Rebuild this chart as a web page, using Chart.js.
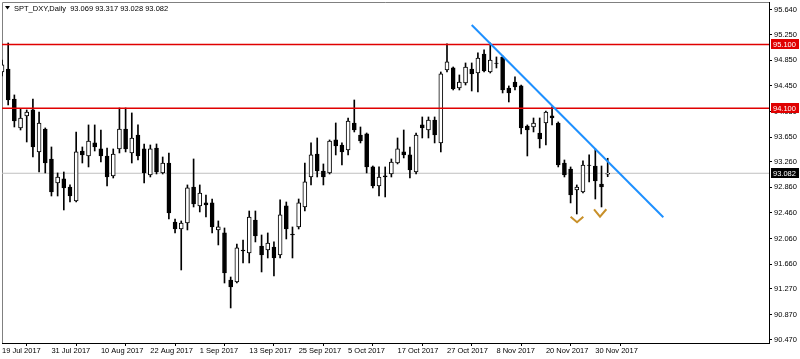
<!DOCTYPE html>
<html><head><meta charset="utf-8">
<script src="https://cdn.jsdelivr.net/npm/chart.js@4/dist/chart.umd.min.js"></script>
<style>html,body{margin:0;padding:0;background:#fff}#wrap{width:800px;height:359px;position:relative}</style>
</head><body><div id="wrap"><canvas id="c" width="800" height="359"></canvas></div>
<script>
const symbolTitle = 'SPT_DXY,Daily';
const lastQuote = '93.069 93.317 93.028 93.082';
const xTickIndex = [0, 8, 16, 24, 32, 40, 48, 56, 64, 72, 80, 88, 96];
const xTickLabels = ['19 Jul 2017','31 Jul 2017','10 Aug 2017','22 Aug 2017','1 Sep 2017','13 Sep 2017','25 Sep 2017','5 Oct 2017','17 Oct 2017','27 Oct 2017','8 Nov 2017','20 Nov 2017','30 Nov 2017'];
const yTicks = [95.640, 95.250, 94.850, 94.450, 94.050, 93.650, 93.260, 92.860, 92.460, 92.060, 91.660, 91.270, 90.870, 90.470];

const open = [94.669,94.716,94.246,93.792,93.980,94.074,93.416,93.776,93.306,92.930,
92.993,92.867,92.648,93.431,93.353,93.557,93.463,93.353,93.040,93.463,
93.776,93.400,93.682,93.463,93.055,93.478,93.087,93.243,92.319,92.209,
92.303,92.867,92.570,92.617,92.617,92.194,92.147,91.410,91.379,91.880,
91.833,92.350,91.943,91.880,91.927,91.802,92.570,92.131,92.241,92.554,
93.024,93.384,93.118,93.087,93.604,93.525,93.447,93.870,93.682,93.698,
93.181,92.883,93.040,93.071,93.243,93.416,93.369,93.102,93.839,93.760,
93.917,93.557,94.700,94.732,94.418,94.497,94.716,94.653,94.951,94.669,
94.810,94.904,94.418,94.512,94.450,93.823,93.807,93.713,93.870,93.980,
93.870,93.243,93.149,92.820,92.789,93.212,93.196,92.914,93.069];
const high = [94.857,95.123,94.309,94.089,94.074,94.246,94.042,93.792,93.494,93.087,
93.102,92.899,93.729,93.494,93.839,93.839,93.760,93.478,93.463,94.105,
94.105,94.027,93.839,93.541,93.525,93.541,93.337,93.400,92.366,92.335,
92.899,93.306,92.899,92.742,92.679,92.335,92.225,91.457,91.974,92.037,
92.491,92.491,92.115,92.147,92.006,92.664,92.632,92.241,92.679,93.243,
93.557,93.635,93.228,93.604,93.870,93.557,93.948,94.230,93.807,93.713,
93.196,93.181,93.181,93.306,93.635,93.760,93.494,93.713,93.964,93.964,
93.964,94.669,95.108,94.747,94.622,94.810,94.810,94.967,95.014,95.123,
94.904,94.920,94.450,94.591,94.465,93.839,93.948,93.948,94.058,94.121,
93.886,93.290,93.181,92.899,93.275,93.369,93.463,93.196,93.317];
const low = [94.606,94.152,93.807,93.760,93.572,93.337,93.102,93.087,92.726,92.726,
92.507,92.632,92.632,93.243,93.181,93.431,93.259,92.883,93.008,93.400,
93.416,93.243,93.290,92.930,93.024,93.071,93.071,92.366,92.147,91.567,
92.194,92.554,92.476,92.397,92.147,91.959,91.363,90.972,91.363,91.677,
91.677,92.006,91.536,91.755,91.473,91.755,92.053,91.755,92.209,92.491,
92.899,93.024,92.899,93.071,93.369,93.212,93.369,93.729,93.557,93.087,
92.852,92.726,92.711,93.024,93.228,93.322,93.008,93.071,93.635,93.635,
93.557,93.416,94.669,94.387,94.387,94.465,94.371,94.356,94.669,94.653,
94.732,94.340,94.199,94.387,93.698,93.353,93.729,93.478,93.525,93.839,
93.181,93.024,92.617,92.444,92.773,92.946,92.679,92.554,93.028];
const close = [94.779,94.230,93.901,93.948,94.042,93.494,93.870,93.243,92.789,93.024,
92.852,92.726,93.416,93.369,93.588,93.494,93.353,93.024,93.384,93.776,
93.463,93.635,93.353,93.087,93.463,93.102,93.243,92.460,92.209,92.303,
92.852,92.601,92.773,92.585,92.241,92.241,91.520,91.301,91.912,91.865,
92.397,92.100,91.802,91.990,91.755,92.429,92.209,92.115,92.617,92.946,
93.369,93.118,93.024,93.588,93.510,93.416,93.901,93.760,93.588,93.181,
92.883,93.024,93.024,93.259,93.463,93.369,93.134,93.682,93.792,93.917,
93.682,94.638,94.826,94.403,94.512,94.747,94.638,94.888,94.685,94.857,
94.802,94.387,94.340,94.434,93.792,93.760,93.870,93.619,94.042,93.948,
93.212,93.055,92.742,92.867,93.212,93.204,92.961,92.867,93.082];

const levelPrices = [95.100, 94.100];
const currentPrice = 93.082;
const trendX = [76.0, 107.0];
const trendY = [95.405, 92.393];
const markAX = [92.0, 93.04, 94.06];
const markAY = [92.402, 92.314, 92.402];
const markBX = [95.79, 96.76, 97.78];
const markBY = [92.518, 92.402, 92.518];

const X_MIN = 0, X_MAX = 124.1;
const FONT = {family: "'Liberation Sans', Arial, sans-serif", size: 7.5};

const idx = open.map((_, i) => i);
const bodies = idx.map(i => ({x: i, y: [open[i], close[i]]}));
const wicks = idx.map(i => ({x: i, y: [low[i], high[i]]}));
const pairs = (xs, ys) => xs.map((x, i) => ({x, y: ys[i]}));

const lineDs = (data, color, width, order) => ({type: 'line', data, borderColor: color, borderWidth: width, pointRadius: 0, fill: false, tension: 0, order});

const overlay = {
  id: 'overlay',
  beforeDatasetsDraw(chart) {
    const {ctx, chartArea: a} = chart;
    ctx.save();
    ctx.strokeStyle = '#808080'; ctx.lineWidth = 1;
    ctx.beginPath();
    ctx.moveTo(a.left + 0.5, a.bottom); ctx.lineTo(a.left + 0.5, a.top + 0.5); ctx.lineTo(a.right, a.top + 0.5);
    ctx.stroke();
    ctx.restore();
  },
  afterDraw(chart) {
    const {ctx, chartArea: a} = chart;
    const ys = chart.scales.y;
    ctx.save();
    ctx.font = `${FONT.size}px ${FONT.family}`;
    ctx.textBaseline = 'middle';
    const box = (v, bg) => {
      const py = Math.round(ys.getPixelForValue(v));
      ctx.fillStyle = bg;
      ctx.fillRect(a.right + 2, py - 5, 28, 10);
      ctx.fillStyle = '#fff';
      ctx.textAlign = 'left';
      ctx.fillText(v.toFixed(3), a.right + 4, py + 0.5);
    };
    levelPrices.forEach(v => box(v, '#e00000'));
    box(currentPrice, '#000');
    ctx.fillStyle = '#000';
    ctx.beginPath(); ctx.moveTo(5, 6); ctx.lineTo(10, 6); ctx.lineTo(7.5, 9.5); ctx.closePath(); ctx.fill();
    ctx.textAlign = 'left';
    ctx.fillText(symbolTitle + '  ' + lastQuote, 14, 8.5);
    ctx.restore();
  }
};

new Chart(document.getElementById('c'), {
  type: 'bar',
  data: {
    datasets: [
      {type: 'bar', data: wicks, backgroundColor: '#000', borderWidth: 0, barThickness: 1, grouped: false, order: 5},
      {type: 'bar', data: bodies, grouped: false, barThickness: 4, borderWidth: 1, borderSkipped: false, borderColor: '#000',
        backgroundColor: ctx => (close[ctx.dataIndex] >= open[ctx.dataIndex] ? '#fff' : '#000'), order: 4},
      lineDs(pairs([X_MIN, X_MAX], [currentPrice, currentPrice]), '#c0c0c0', 1, 6),
      lineDs(pairs([X_MIN, X_MAX], [levelPrices[0], levelPrices[0]]), '#e00000', 1.5, 3),
      lineDs(pairs([X_MIN, X_MAX], [levelPrices[1], levelPrices[1]]), '#e00000', 1.5, 3),
      lineDs(pairs(trendX, trendY), '#1e90ff', 2, 2),
      lineDs(pairs(markAX, markAY), '#c8902a', 2, 1),
      lineDs(pairs(markBX, markBY), '#c8902a', 2, 1)
    ]
  },
  options: {
    responsive: false, animation: false, devicePixelRatio: 1,
    events: [],
    layout: {padding: {left: 2, top: 2, right: 0, bottom: 0}},
    plugins: {legend: {display: false}, tooltip: {enabled: false}, title: {display: false}},
    scales: {
      x: {
        type: 'linear', min: X_MIN, max: X_MAX, offset: false,
        grid: {drawOnChartArea: false, drawTicks: true, tickLength: 3, tickColor: '#000'},
        border: {color: '#000', width: 1},
        afterBuildTicks: s => { s.ticks = xTickIndex.map(v => ({value: v})); },
        afterFit: s => { s.height = 16; s.paddingLeft = 0; s.paddingRight = 0; },
        ticks: {autoSkip: false, maxRotation: 0, align: 'start', padding: 0, color: '#000', font: FONT,
          callback: v => xTickLabels[xTickIndex.indexOf(v)]}
      },
      y: {
        type: 'linear', position: 'right', min: 90.423, max: 95.765,
        grid: {drawOnChartArea: false, drawTicks: true, tickLength: 3, tickColor: '#000'},
        border: {color: '#000', width: 1},
        afterBuildTicks: s => { s.ticks = yTicks.map(v => ({value: v})); },
        afterFit: s => { s.width = 31; s.paddingTop = 0; s.paddingBottom = 0; },
        ticks: {autoSkip: false, padding: 2, color: '#000', font: FONT, callback: v => Number(v).toFixed(3)}
      }
    }
  },
  plugins: [overlay]
});
</script></body></html>
